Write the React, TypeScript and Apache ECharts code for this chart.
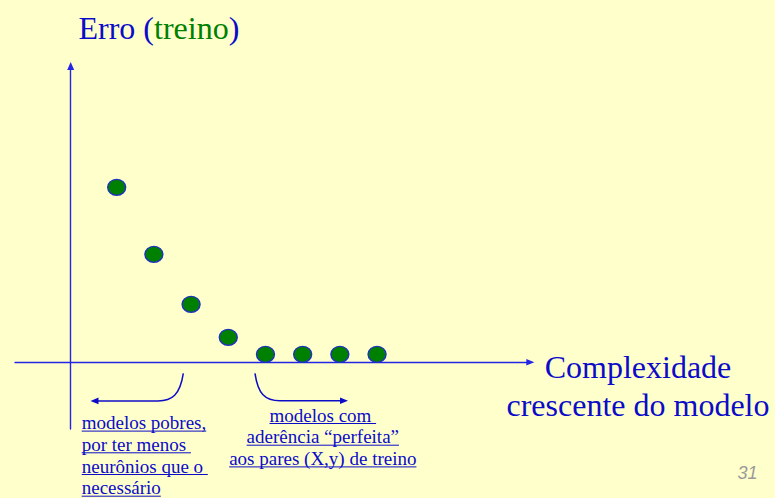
import React, { useEffect, useRef } from 'react';
import * as echarts from 'echarts';

// ---- data ----
const complexity = [1, 2, 3, 4, 5, 6, 7, 8];
const trainingError = [175, 108, 58, 25, 8, 8, 8, 8];
const yTitleParts = ['Erro (', 'treino', ')'];
const xTitleLines = ['Complexidade', 'crescente do modelo'];
const leftNoteLines = ['modelos pobres,', 'por ter menos ', 'neurônios que o ', 'necessário'];
const rightNoteLines = ['modelos com ', 'aderência “perfeita”', 'aos pares (X,y) de treino'];
const pageNumber = '31';

// ---- style ----
const BG = '#FFFFCC';
const BLUE = '#0c0cc8';
const AXIS_BLUE = '#2424e6';
const GREEN = '#008000';
const SERIF = '"Liberation Serif"';
const SANS = '"Liberation Sans"';

let ctx: CanvasRenderingContext2D | null = null;
function measure(text: string, font: string): number {
  if (!ctx) ctx = document.createElement('canvas').getContext('2d');
  if (!ctx) return text.length * 8;
  ctx.font = font;
  return ctx.measureText(text).width;
}

const ELLIPSE = 'path://M0 8A9 8 0 1 1 18 8A9 8 0 1 1 0 8Z';

export default function App() {
  const ref = useRef<HTMLDivElement>(null);

  useEffect(() => {
    if (!ref.current) return;
    const chart = echarts.init(ref.current, null, { renderer: 'svg' });

    const noteSize = 19;
    const noteFont = `${noteSize}px ${SERIF}`;
    const titleSize = 32;
    const titleFont = `${titleSize}px ${SERIF}`;
    const noteLH = 21.7;
    const central = (fs: number) => 0.3375 * fs;

    const graphics: any[] = [];

    // y title (rich text)
    graphics.push({
      type: 'text',
      x: 78.5,
      y: 38.3 - central(titleSize),
      style: {
        text: `{b|${yTitleParts[0]}}{g|${yTitleParts[1]}}{b|${yTitleParts[2]}}`,
        rich: {
          b: { fill: BLUE, font: titleFont },
          g: { fill: GREEN, font: titleFont },
        },
        font: titleFont,
        align: 'left',
        verticalAlign: 'middle',
      },
    });

    // x title
    xTitleLines.forEach((t, i) => {
      graphics.push({
        type: 'text',
        x: 638,
        y: 377.3 + i * 38.7 - central(titleSize),
        style: {
          text: t,
          fill: BLUE,
          font: titleFont,
          align: 'center',
          verticalAlign: 'middle',
        },
      });
    });

    // notes
    const addNote = (lines: string[], anchorX: number, align: 'left' | 'center', firstBase: number) => {
      lines.forEach((t, i) => {
        const base = firstBase + i * noteLH;
        const w = measure(t, noteFont);
        const x0 = align === 'left' ? anchorX : anchorX - w / 2;
        graphics.push({
          type: 'text',
          x: anchorX,
          y: base - central(noteSize),
          style: {
            text: t,
            fill: BLUE,
            font: noteFont,
            align,
            verticalAlign: 'middle',
          },
        });
        graphics.push({
          type: 'line',
          silent: true,
          shape: { x1: x0, y1: base + 1.9, x2: x0 + w, y2: base + 1.9 },
          style: { stroke: BLUE, lineWidth: 1 },
        });
      });
    };
    addNote(leftNoteLines, 81.7, 'left', 429.2);
    addNote(rightNoteLines, 322.8, 'center', 421.6);

    // bracket arrows
    const bracketStyle = { stroke: BLUE, lineWidth: 1.5, fill: null };
    graphics.push(
      {
        type: 'bezierCurve',
        silent: true,
        shape: { x1: 183.3, y1: 373.3, cpx1: 180, cpy1: 395, cpx2: 172, cpy2: 400.8, x2: 158, y2: 400.9 },
        style: bracketStyle,
      },
      {
        type: 'line',
        silent: true,
        shape: { x1: 158, y1: 400.9, x2: 97, y2: 400.9 },
        style: bracketStyle,
      },
      {
        type: 'polygon',
        silent: true,
        shape: { points: [[90.5, 400.9], [98.5, 397.6], [98.5, 404.2]] },
        style: { fill: BLUE },
      },
      {
        type: 'bezierCurve',
        silent: true,
        shape: { x1: 255, y1: 373.3, cpx1: 258, cpy1: 394, cpx2: 265, cpy2: 400.6, x2: 280, y2: 400.8 },
        style: bracketStyle,
      },
      {
        type: 'line',
        silent: true,
        shape: { x1: 280, y1: 400.8, x2: 341, y2: 400.8 },
        style: bracketStyle,
      },
      {
        type: 'polygon',
        silent: true,
        shape: { points: [[348, 400.8], [340, 397.5], [340, 404.1]] },
        style: { fill: BLUE },
      }
    );

    // page number
    graphics.push({
      type: 'text',
      x: 757.5,
      y: 479 - 0.3465 * 18,
      style: {
        text: pageNumber,
        fill: '#9a9a9a',
        font: `italic 18px ${SANS}`,
        align: 'right',
        verticalAlign: 'middle',
      },
    });

    const option: any = {
      animation: false,
      backgroundColor: BG,
      grid: { left: 15, right: 244.7, top: 66, bottom: 69 },
      xAxis: {
        type: 'value',
        min: -1.734,
        max: 12.12,
        axisLine: {
          onZero: true,
          symbol: ['none', 'triangle'],
          symbolSize: [6.5, 8],
          lineStyle: { color: AXIS_BLUE, width: 1.4 },
        },
        axisTick: { show: false },
        axisLabel: { show: false },
        splitLine: { show: false },
      },
      yAxis: {
        type: 'value',
        min: -66.7,
        max: 296.3,
        offset: -55.7,
        axisLine: {
          show: true,
          onZero: false,
          symbol: ['none', 'triangle'],
          symbolSize: [7, 8],
          lineStyle: { color: AXIS_BLUE, width: 1.4 },
        },
        axisTick: { show: false },
        axisLabel: { show: false },
        splitLine: { show: false },
      },
      series: [
        {
          type: 'scatter',
          data: complexity.map((x, i) => [x, trainingError[i]]),
          symbol: ELLIPSE,
          symbolSize: [18, 16],
          symbolKeepAspect: false,
          itemStyle: { color: GREEN, borderColor: '#2030c0', borderWidth: 1.3, opacity: 1 },
          silent: true,
        },
      ],
      graphic: { elements: graphics },
    };

    chart.setOption(option);
    return () => chart.dispose();
  }, []);

  return (
    <div
      ref={ref}
      style={{ position: 'fixed', left: 0, top: 0, width: 775, height: 498, background: BG }}
    />
  );
}
